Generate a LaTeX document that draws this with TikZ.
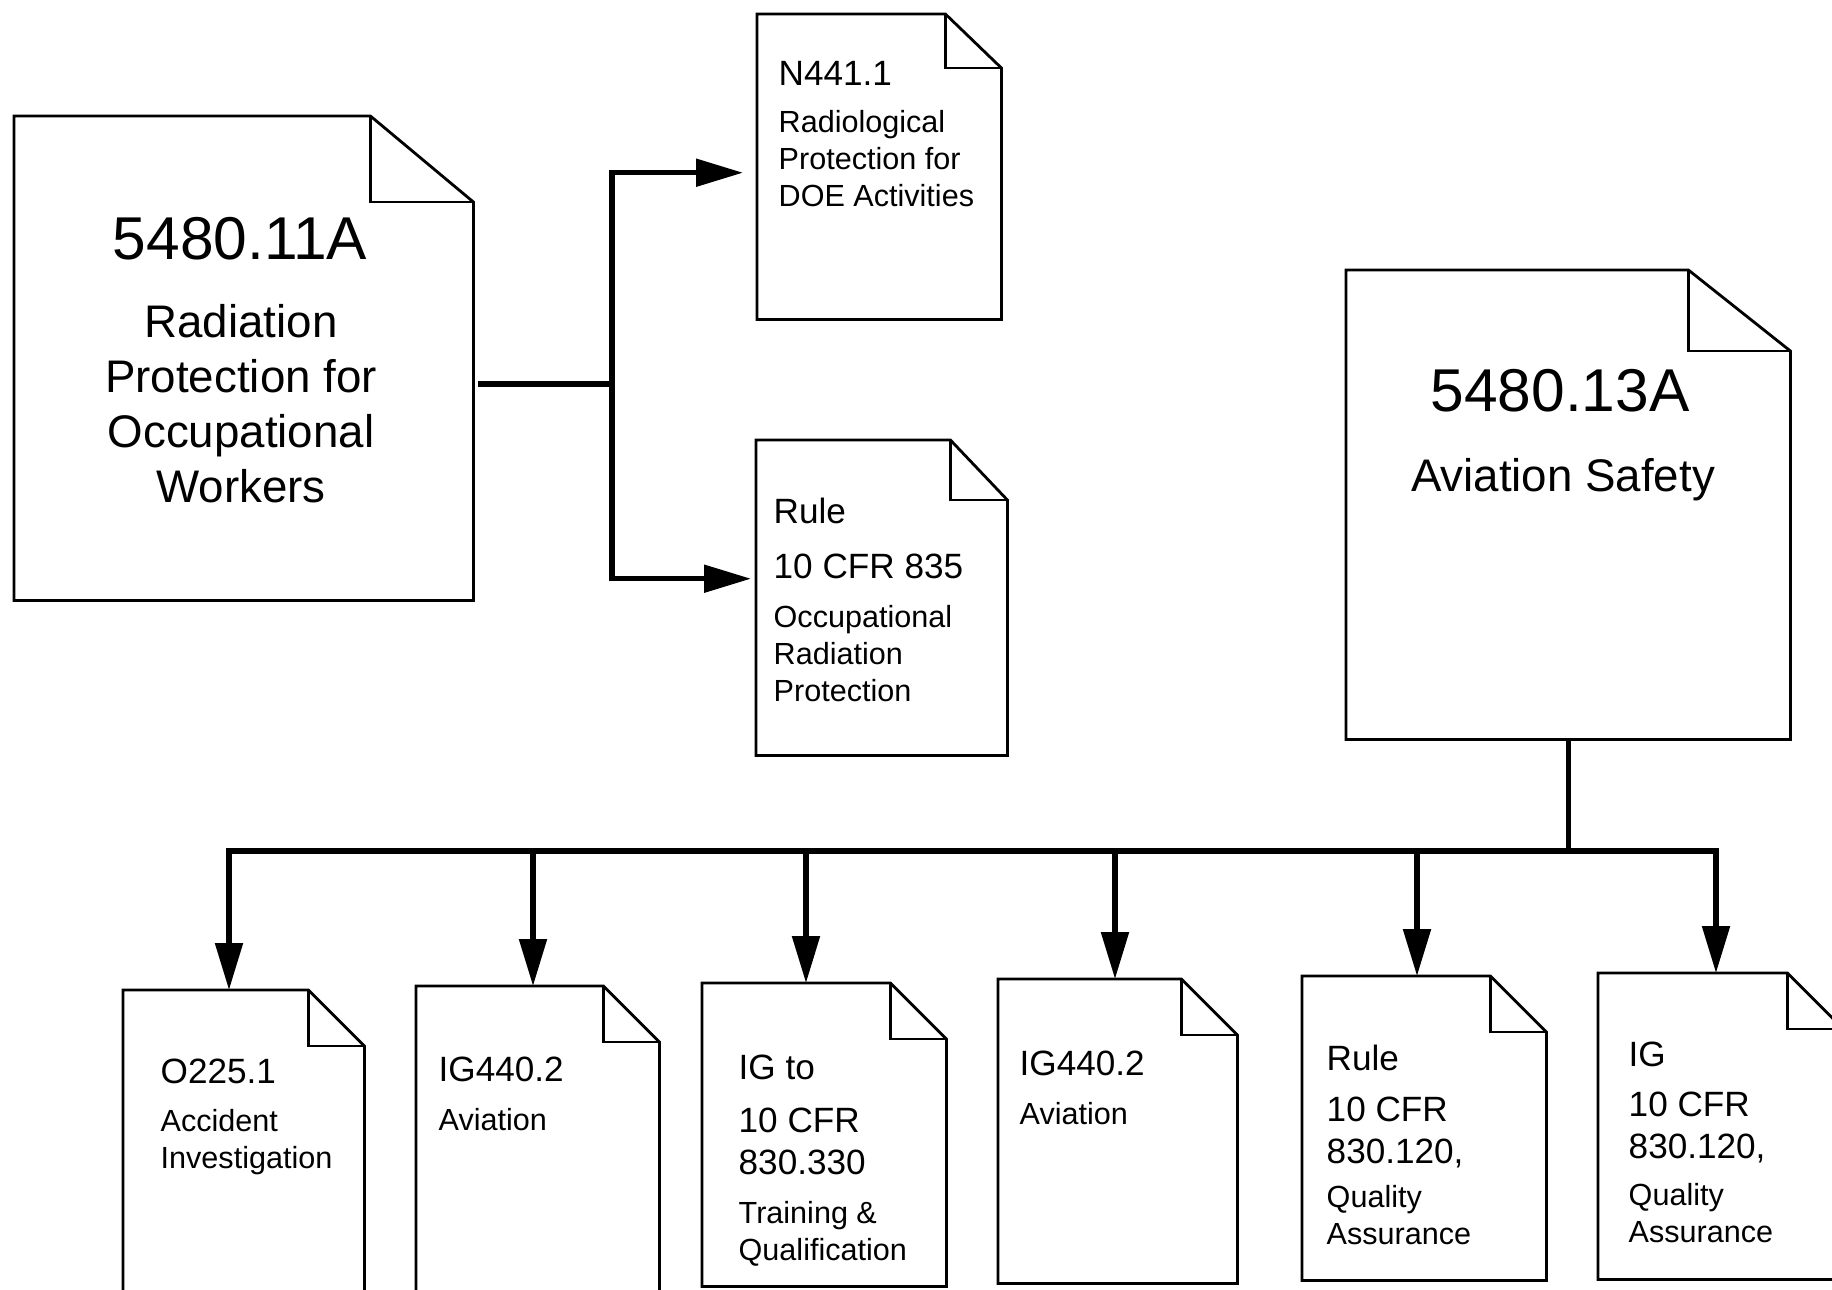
\documentclass[tikz,border=0pt]{standalone}
\usepackage{fontspec}
\setmainfont{Liberation Sans}
\usetikzlibrary{arrows.meta}
\tikzset{
  docline/.style  = {line width=0.8pt, line join=miter},
  docpage/.style  = {inner sep=0pt, anchor=north west},
  flowline/.style = {line width=1.5pt},
  flowarr/.style  = {-{Triangle[length=4.7mm,width=2.7mm]}, line width=1.5pt},
  hdtext/.style   = {font=\fontsize{10}{11.7}\selectfont, anchor=base west, align=left, inner sep=0pt},
  dstext/.style   = {font=\fontsize{8.7}{10.4}\selectfont, anchor=base west, align=left, inner sep=0pt},
  bignum/.style   = {font=\fontsize{17.2}{20}\selectfont, anchor=base, inner sep=0pt},
  bigtext/.style  = {font=\fontsize{13}{15.6}\selectfont, anchor=base, align=center, inner sep=0pt}
}
% outline of a sheet with folded corner: node, fold width, fold height
\newcommand{\docsheet}[3]{%
  \draw[docline] (#1.north west) -- ([xshift=-#2]#1.north east)
    -- ([yshift=-#3]#1.north east) -- (#1.south east) -- (#1.south west) -- cycle;
  \draw[docline] ([xshift=-#2]#1.north east) |- ([yshift=-#3]#1.north east);
}

\begin{document}
\begin{tikzpicture}
  \useasboundingbox (0,0) rectangle (18.32,-12.89);
  \clip (0,0) rectangle (18.32,-12.89);

  % sheets
  \node[docpage, minimum width=4.58cm, minimum height=4.83cm] (a) at (0.14,-1.16) {};
  \node[docpage, minimum width=2.43cm, minimum height=3.04cm] (b) at (7.57,-0.14) {};
  \node[docpage, minimum width=2.50cm, minimum height=3.14cm] (c) at (7.56,-4.40) {};
  \node[docpage, minimum width=4.43cm, minimum height=4.68cm] (d) at (13.46,-2.70) {};
  \node[docpage, minimum width=2.40cm, minimum height=3.20cm] (e1) at (1.23,-9.90) {};
  \node[docpage, minimum width=2.42cm, minimum height=3.20cm] (e2) at (4.16,-9.86) {};
  \node[docpage, minimum width=2.43cm, minimum height=3.02cm] (e3) at (7.02,-9.83) {};
  \node[docpage, minimum width=2.38cm, minimum height=3.03cm] (e4) at (9.98,-9.79) {};
  \node[docpage, minimum width=2.43cm, minimum height=3.03cm] (e5) at (13.02,-9.76) {};
  \node[docpage, minimum width=2.44cm, minimum height=3.05cm] (e6) at (15.98,-9.73) {};

  \docsheet{a}{1.03cm}{0.86cm}
  \docsheet{b}{0.56cm}{0.54cm}
  \docsheet{c}{0.57cm}{0.60cm}
  \docsheet{d}{1.02cm}{0.81cm}
  \foreach \n in {e1,e2,e3,e4,e5,e6}
    { \docsheet{\n}{0.56cm}{0.56cm} }

  % texts (multi-line nodes sit on their last line)
  \node[bignum]  (a-num) at (2.40,-2.59) {5480.11A};
  \node[bigtext] (a-txt) at (2.41,-5.02) {Radiation\\Protection for\\Occupational\\Workers};
  \node[bignum]  (d-num) at (15.60,-4.11) {5480.13A};
  \node[bigtext] (d-txt) at (15.63,-4.91) {Aviation Safety};

  \node[hdtext] (b-hd) at (7.78,-0.85) {N441.1};
  \node[dstext] (b-ds) at (7.78,-2.06) {Radiological\\Protection for\\DOE Activities};
  \node[hdtext] (c-hd) at (7.73,-5.78) {Rule\\[3.9pt]10 CFR 835};
  \node[dstext] (c-ds) at (7.73,-7.01) {Occupational\\Radiation\\Protection};

  \node[hdtext] (e1-hd) at (1.60,-10.83) {O225.1};
  \node[dstext] (e1-ds) at (1.60,-11.68) {Accident\\Investigation};
  \node[hdtext] (e2-hd) at (4.38,-10.81) {IG440.2};
  \node[dstext] (e2-ds) at (4.38,-11.30) {Aviation};
  \node[hdtext] (e3-hd) at (7.38,-11.74) {IG to\\[3.4pt]10 CFR\\830.330};
  \node[dstext] (e3-ds) at (7.38,-12.60) {Training \&\\Qualification};
  \node[hdtext] (e4-hd) at (10.19,-10.75) {IG440.2};
  \node[dstext] (e4-ds) at (10.19,-11.24) {Aviation};
  \node[hdtext] (e5-hd) at (13.26,-11.63) {Rule\\[2.8pt]10 CFR\\830.120,};
  \node[dstext] (e5-ds) at (13.26,-12.44) {Quality\\Assurance};
  \node[hdtext] (e6-hd) at (16.28,-11.58) {IG\\[2.5pt]10 CFR\\830.120,};
  \node[dstext] (e6-ds) at (16.28,-12.42) {Quality\\Assurance};

  % connectors
  \coordinate (split) at (6.12,-3.84);
  \draw[flowline, shorten <=0.05cm] (a.east |- split) -- (split);
  \draw[flowarr, shorten >=0.14cm] (split) |- ([yshift=-0.06cm]b.west);
  \draw[flowarr, shorten >=0.05cm] (split) |- ([yshift=0.19cm]c.west);

  \draw[flowline] (d.south) -- (d.south |- 0,-8.51) coordinate (bus);
  \draw[flowarr] (bus) -- (2.29,-8.51) -- (2.29,-8.51 |- e1.north);
  \draw[flowarr] (bus) -- (17.16,-8.51) -- (17.16,-8.51 |- e6.north);
  \foreach \x/\n in {5.33/e2, 8.06/e3, 11.15/e4, 14.17/e5}
    \draw[flowarr] (\x,-8.51) -- (\x,-8.51 |- \n.north);
\end{tikzpicture}
\end{document}
